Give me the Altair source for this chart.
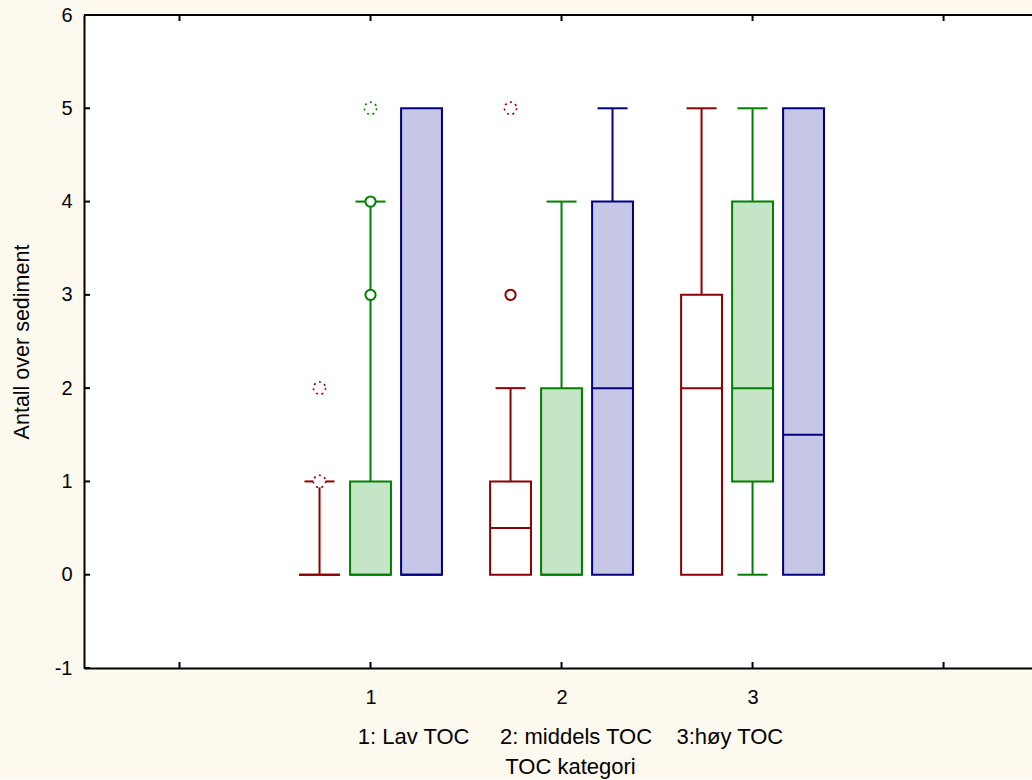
import altair as alt
import pandas as pd

# TOC category of each box and the series it belongs to (1 = red, 2 = green, 3 = blue)
categories = [1, 1, 1, 2, 2, 2, 3, 3, 3]
series = [1, 2, 3, 1, 2, 3, 1, 2, 3]

# Box statistics: quartiles, median and whisker ends
q1 = [0, 0, 0, 0, 0, 0, 0, 1, 0]
median = [0, 0, 0, 0.5, 0, 2, 2, 2, 1.5]
q3 = [0, 1, 5, 1, 2, 4, 3, 4, 5]
whisker_low = [0, 0, 0, 0, 0, 0, 0, 0, 0]
whisker_high = [1, 4, 5, 2, 4, 5, 5, 5, 5]

# Outliers (circles) and extremes (dotted rings): category, series, value
outlier_cat = [1, 1, 2]
outlier_series = [2, 2, 1]
outlier_val = [3, 4, 3]
extreme_cat = [1, 1, 1, 2]
extreme_series = [1, 1, 2, 1]
extreme_val = [1, 2, 5, 5]

y_ticks = [-1, 0, 1, 2, 3, 4, 5, 6]
x_ticks = [0, 1, 2, 3, 4]

series_names = ["serie 1", "serie 2", "serie 3"]
stroke_colors = ["#8B0000", "#008000", "#000080"]
fill_colors = ["#FFFFFF", "#C6E4C6", "#C6C6E6"]

# Layout in x data units (one category = one unit)
GROUP_STEP = 0.267
BOX_HALF = 0.107
CAP_HALF = 0.0785


def centre(cat, s):
    return cat + (s - 2) * GROUP_STEP


boxes = pd.DataFrame({
    "cat": categories,
    "serie": [series_names[s - 1] for s in series],
    "xc": [centre(c, s) for c, s in zip(categories, series)],
    "q1": q1, "median": median, "q3": q3,
    "lo": whisker_low, "hi": whisker_high,
})
boxes["x1"] = boxes["xc"] - BOX_HALF
boxes["x2"] = boxes["xc"] + BOX_HALF

# Whisker caps only where a whisker extends beyond the box
cap_rows = []
for c, s, a, b, lo, hi in zip(categories, series, q1, q3, whisker_low, whisker_high):
    xc = centre(c, s)
    if hi > b:
        cap_rows.append({"serie": series_names[s - 1], "y": hi, "x1": xc - CAP_HALF, "x2": xc + CAP_HALF})
    if lo < a:
        cap_rows.append({"serie": series_names[s - 1], "y": lo, "x1": xc - CAP_HALF, "x2": xc + CAP_HALF})
caps = pd.DataFrame(cap_rows)

outliers = pd.DataFrame({
    "serie": [series_names[s - 1] for s in outlier_series],
    "xc": [centre(c, s) for c, s in zip(outlier_cat, outlier_series)],
    "y": outlier_val,
})
extremes = pd.DataFrame({
    "serie": [series_names[s - 1] for s in extreme_series],
    "xc": [centre(c, s) for c, s in zip(extreme_cat, extreme_series)],
    "y": extreme_val,
})

FONT = "Liberation Sans"
NBSP = "\u00a0"

x_scale = alt.Scale(domain=[-0.5, 4.463], nice=False, zero=False)
y_scale = alt.Scale(domain=[-1, 6], nice=False, zero=False)
stroke_scale = alt.Scale(domain=series_names, range=stroke_colors)
fill_scale = alt.Scale(domain=series_names, range=fill_colors)

x_title_line = "1: Lav TOC" + NBSP * 5 + "2: middels TOC" + NBSP * 4 + "3:høy TOC"

x_axis = alt.Axis(
    values=x_ticks, ticks=False, tickSize=0, grid=False, domain=True,
    domainColor="black", domainWidth=2,
    labelExpr="datum.value >= 1 && datum.value <= 3 ? '' + datum.value : ''",
    labelFont=FONT, labelFontSize=20, labelColor="black",
    labelBaseline="alphabetic", labelPadding=35,
    title=[x_title_line, "TOC kategori"],
    titleFont=FONT, titleFontSize=22, titleFontWeight="normal", titleColor="black",
    titleX=486, titleY=75, titleAlign="center", titleBaseline="alphabetic",
    titleLineHeight=30,
)
y_axis = alt.Axis(
    values=y_ticks, ticks=False, tickSize=0, grid=False, domain=True,
    domainColor="black", domainWidth=2,
    labelExpr="'' + datum.value",
    labelFont=FONT, labelFontSize=20, labelColor="black", labelPadding=12,
    title="Antall over sediment",
    titleFont=FONT, titleFontSize=21.5, titleFontWeight="normal", titleColor="black",
    titleX=-56, titleY=326.5, titleAngle=-90, titleAlign="center",
    titleBaseline="alphabetic",
)

base = alt.Chart(boxes)

whiskers = base.mark_rule(strokeWidth=2).encode(
    x=alt.X("xc:Q", scale=x_scale, axis=x_axis),
    y=alt.Y("lo:Q", scale=y_scale, axis=y_axis),
    y2="hi:Q",
    color=alt.Color("serie:N", scale=stroke_scale, legend=None),
)

cap_layer = alt.Chart(caps).mark_rule(strokeWidth=2).encode(
    x=alt.X("x1:Q", scale=x_scale),
    x2="x2:Q",
    y=alt.Y("y:Q", scale=y_scale),
    color=alt.Color("serie:N", scale=stroke_scale, legend=None),
)

box_layer = base.mark_rect(strokeWidth=2).encode(
    x=alt.X("x1:Q", scale=x_scale),
    x2="x2:Q",
    y=alt.Y("q1:Q", scale=y_scale),
    y2="q3:Q",
    fill=alt.Fill("serie:N", scale=fill_scale, legend=None),
    stroke=alt.Stroke("serie:N", scale=stroke_scale, legend=None),
)

median_layer = base.mark_rule(strokeWidth=2).encode(
    x=alt.X("x1:Q", scale=x_scale),
    x2="x2:Q",
    y=alt.Y("median:Q", scale=y_scale),
    color=alt.Color("serie:N", scale=stroke_scale, legend=None),
)

outlier_layer = alt.Chart(outliers).mark_point(
    shape="circle", size=105, strokeWidth=2, filled=False, fill="white", fillOpacity=1, opacity=1
).encode(
    x=alt.X("xc:Q", scale=x_scale),
    y=alt.Y("y:Q", scale=y_scale),
    stroke=alt.Stroke("serie:N", scale=stroke_scale, legend=None),
)

extreme_layer = alt.Chart(extremes).mark_point(
    shape="circle", size=150, strokeWidth=1.6, strokeDash=[2, 3.5],
    filled=False, fill="white", fillOpacity=1, opacity=1
).encode(
    x=alt.X("xc:Q", scale=x_scale),
    y=alt.Y("y:Q", scale=y_scale),
    stroke=alt.Stroke("serie:N", scale=stroke_scale, legend=None),
)

# Inward tick marks on the left, bottom and top edges, plus the top frame line
ytick_df = pd.DataFrame({"v": y_ticks})
xtick_df = pd.DataFrame({"v": x_ticks})

left_ticks = alt.Chart(ytick_df).mark_rule(color="black", strokeWidth=2).encode(
    y=alt.Y("v:Q", scale=y_scale), x=alt.value(0), x2=alt.value(6)
)
bottom_ticks = alt.Chart(xtick_df).mark_rule(color="black", strokeWidth=2).encode(
    x=alt.X("v:Q", scale=x_scale), y=alt.value(653), y2=alt.value(647)
)
top_ticks = alt.Chart(xtick_df).mark_rule(color="black", strokeWidth=2).encode(
    x=alt.X("v:Q", scale=x_scale), y=alt.value(0), y2=alt.value(6)
)
top_frame = alt.Chart(xtick_df).mark_rule(color="black", strokeWidth=2).encode(
    x=alt.value(0), x2=alt.value(948), y=alt.value(0)
)

chart = alt.layer(
    whiskers, cap_layer, box_layer, median_layer, outlier_layer, extreme_layer,
    left_ticks, bottom_ticks, top_ticks, top_frame,
).properties(
    width=948,
    height=653,
    background="#FEF9EF",
    padding={"left": 84, "top": 15, "right": 0, "bottom": 111},
    autosize=alt.AutoSizeParams(type="none"),
).configure_view(stroke=None, fill="white")

chart.save("out.html", embed_options={"renderer": "svg", "actions": False})
